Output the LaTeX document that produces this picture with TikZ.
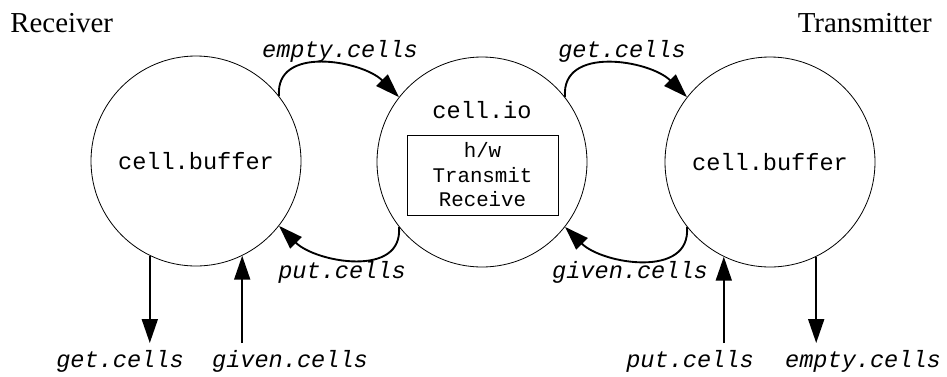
\documentclass[tikz,border=0pt]{standalone}
\usepackage{fontspec}
\setmainfont{Liberation Serif}
\setmonofont{Liberation Mono}
\usetikzlibrary{arrows.meta,calc}
\begin{document}
\begin{tikzpicture}[x=0.75pt,y=-0.75pt,
  proc/.style={draw,circle,line width=0.6pt,minimum size=157.5pt,inner sep=0pt,
    font=\fontsize{17.7}{21}\selectfont\ttfamily},
  chan/.style={font=\fontsize{17.7}{21}\selectfont\ttfamily\itshape,inner sep=0pt,anchor=base},
  side/.style={font=\fontsize{21.7}{26}\selectfont,inner sep=0pt},
  flow/.style={line width=1.4pt,-{Triangle[length=18pt,width=12pt]}}]
\useasboundingbox (0,0) rectangle (947,376);

% side titles
\node[side,anchor=base west] (rx) at (10,32) {Receiver};
\node[side,anchor=base east] (tx) at (932,32) {Transmitter};

% processes
\node[proc] (L) at (196,161) {cell.buffer};
\node[proc] (M) at (482,162) {};
\node[proc] (R) at (770,162) {cell.buffer};
\node[font=\fontsize{17.7}{21}\selectfont\ttfamily,inner sep=0pt] (io) at (482,110) {cell.io};
\node[draw,line width=0.6pt,minimum width=113.3pt,minimum height=60pt,inner sep=0pt,
  align=center,font=\fontsize{15.6}{18.4}\selectfont\ttfamily] (hw) at (482.5,175)
  {h/w\\Transmit\\Receive};

% channels between the processes
\draw[flow] (L.38) to[out=95,in=135,looseness=1.1] (M.142);
\draw[flow] (M.38) to[out=95,in=135,looseness=1.1] (R.142);
\draw[flow] (M.218) to[out=-85,in=-45,looseness=1.1] (L.322);
\draw[flow] (R.218) to[out=-85,in=-45,looseness=1.1] (M.322);

\node[chan] (c1) at (340,57) {empty.cells};
\node[chan] (c2) at (622,57) {get.cells};
\node[chan] (c3) at (342,278) {put.cells};
\node[chan] (c4) at (630,278) {given.cells};

% external channels
\coordinate (e1) at ($(L.244)+(0,87)$);
\coordinate (e2) at ($(L.296)+(0,87)$);
\coordinate (e3) at ($(R.244)+(0,87)$);
\coordinate (e4) at ($(R.296)+(0,87)$);
\draw[flow] (L.244) -- (e1 |- 0,343);
\draw[flow] (e2 |- 0,343) -- (L.296);
\draw[flow] (e3 |- 0,343) -- (R.244);
\draw[flow] (R.296) -- (e4 |- 0,343);

\node[chan] (b1) at (120,367) {get.cells};
\node[chan] (b2) at (290,367) {given.cells};
\node[chan] (b3) at (690,367) {put.cells};
\node[chan] (b4) at (863,367) {empty.cells};
\end{tikzpicture}
\end{document}
